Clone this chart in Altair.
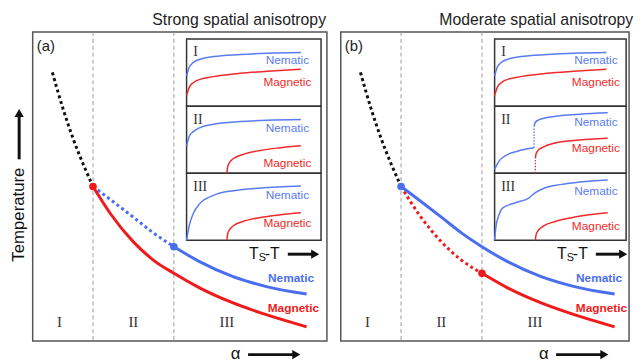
import altair as alt
import pandas as pd

# ---------------- main phase-diagram data (arbitrary units) ----------------
alpha_black = [6.7, 10.3, 13.7, 17.0, 20.5]
T_black = [86.9, 75.2, 65.6, 57.6, 50.0]
alpha_main = [20.5, 26.5, 34.3, 41.0, 48.0, 56.7, 67.9, 79.1, 93.1]
T_magnetic = [50.0, 41.1, 32.0, 26.2, 21.9, 17.2, 12.4, 8.6, 4.6]
T_nematic = [50.0, 45.7, 40.0, 35.0, 30.5, 25.7, 20.9, 17.7, 15.2]
alpha_boundaries = [20.5, 48.0]
region_names = ["I", "II", "III"]
region_alpha = [9.1, 34.2, 66.0]
panel_tags = ["(a)", "(b)"]
panel_titles = ["Strong spatial anisotropy", "Moderate spatial anisotropy"]

# ---------------- inset order-parameter curves (u = Ts-T, v = order parameter) ----------------
u_early = [0.0, 0.02, 0.05, 0.1, 0.2, 0.4, 0.6, 0.85]
nem_I = [0.45, 0.58, 0.65, 0.70, 0.74, 0.77, 0.79, 0.80]
mag_I = [0.16, 0.28, 0.35, 0.40, 0.44, 0.49, 0.52, 0.55]
nem_IIa = [0.40, 0.55, 0.62, 0.68, 0.73, 0.77, 0.79, 0.80]
u_nem_IIIa = [0.0, 0.02, 0.05, 0.1, 0.2, 0.35, 0.55, 0.85]
nem_IIIa = [0.0, 0.22, 0.40, 0.55, 0.67, 0.74, 0.78, 0.81]
u_mag_late = [0.30, 0.305, 0.32, 0.35, 0.42, 0.55, 0.7, 0.85]
mag_late = [0.0, 0.09, 0.16, 0.22, 0.28, 0.34, 0.38, 0.41]

u_nem_IIb_low = [0.0, 0.03, 0.08, 0.16, 0.24, 0.30]
nem_IIb_low = [0.06, 0.17, 0.26, 0.32, 0.36, 0.38]
u_nem_IIb_jump = [0.30, 0.30]
nem_IIb_jump = [0.38, 0.70]
u_nem_IIb_high = [0.30, 0.31, 0.34, 0.40, 0.51, 0.65, 0.86]
nem_IIb_high = [0.70, 0.76, 0.80, 0.83, 0.86, 0.88, 0.90]
u_mag_IIb_jump = [0.31, 0.31]
mag_IIb_jump = [0.0, 0.22]
u_mag_IIb = [0.31, 0.315, 0.33, 0.37, 0.46, 0.62, 0.86]
mag_IIb = [0.22, 0.29, 0.34, 0.39, 0.45, 0.49, 0.52]
u_nem_IIIb = [0.0, 0.01, 0.03, 0.06, 0.16, 0.26, 0.31, 0.38, 0.5, 0.65, 0.86]
nem_IIIb = [0.0, 0.2, 0.36, 0.48, 0.56, 0.63, 0.71, 0.78, 0.83, 0.87, 0.90]
u_mag_IIIb = [0.31, 0.315, 0.33, 0.37, 0.46, 0.62, 0.86]
mag_IIIb = [0.0, 0.08, 0.14, 0.21, 0.28, 0.35, 0.41]

inset_label_u = [0.75, 0.77]
inset_nem_v = [[0.68, 0.68, 0.68], [0.68, 0.76, 0.74]]
inset_mag_v = [[0.36, 0.15, 0.25], [0.36, 0.37, 0.21]]

# ---------------- layout constants ----------------
X_MAX = [100.0, 98.0]
PANEL_W = [298, 292]
PANEL_H = 313
INSET_X0 = 52.3
INSET_X1 = [98.0, 97.0]
SUB_BOTTOM = [76.0, 54.3, 32.6]
SUB_H = 21.7

SANS = "Liberation Sans"
SERIF = "Liberation Serif"

color_scale = alt.Scale(domain=["blk", "nem", "mag", "nem_l", "mag_l"],
                        range=["#111111", "#4a6ef0", "#f01a1a", "#5a7cf2", "#f02a2a"])


def to_panel(p, sub, u, v):
    a0, a1 = INSET_X0, INSET_X1[p]
    b = SUB_BOTTOM[sub]
    return [a0 + ui * (a1 - a0) for ui in u], [b + vi * SUB_H for vi in v]


def seg_rows(seg, series, style, xs, ys):
    return [dict(seg=seg, series=series, style=style, i=k, x=x, y=y)
            for k, (x, y) in enumerate(zip(xs, ys))]


def panel_chart(p):
    xs = alt.Scale(domain=[0, X_MAX[p]], nice=False, zero=False)
    ys = alt.Scale(domain=[0, 100], nice=False, zero=False)

    def X(f="x"):
        return alt.X(f, type="quantitative", scale=xs, axis=None)

    def Y(f="y"):
        return alt.Y(f, type="quantitative", scale=ys, axis=None)

    C = alt.Color("series:N", scale=color_scale, legend=None)

    # main curves
    rows = seg_rows("blk", "blk", "dot", alpha_black, T_black)
    if p == 0:
        rows += seg_rows("mag", "mag", "solid", alpha_main, T_magnetic)
        rows += seg_rows("nd", "nem", "dot", alpha_main[:5], T_nematic[:5])
        rows += seg_rows("ns", "nem", "solid", alpha_main[4:], T_nematic[4:])
        pts = [dict(series="mag", x=alpha_main[0], y=T_magnetic[0]),
               dict(series="nem", x=alpha_main[4], y=T_nematic[4])]
    else:
        rows += seg_rows("nem", "nem", "solid", alpha_main, T_nematic)
        rows += seg_rows("md", "mag", "dot", alpha_main[:5], T_magnetic[:5])
        rows += seg_rows("ms", "mag", "solid", alpha_main[4:], T_magnetic[4:])
        pts = [dict(series="nem", x=alpha_main[0], y=T_nematic[0]),
               dict(series="mag", x=alpha_main[4], y=T_magnetic[4])]
    main = pd.DataFrame(rows)

    bounds = alt.Chart(pd.DataFrame({"x": alpha_boundaries})).mark_rule(
        color="#9a9a9a", strokeWidth=1, strokeDash=[4, 3]).encode(x=X())

    solid = alt.Chart(main[main["style"] == "solid"]).mark_line(
        strokeWidth=3, interpolate="monotone").encode(
        x=X(), y=Y(), color=C, detail="seg:N", order="i:Q")
    dotted = alt.Chart(main[main["style"] == "dot"]).mark_line(
        strokeWidth=3, strokeDash=[3, 3], interpolate="monotone").encode(
        x=X(), y=Y(), color=C, detail="seg:N", order="i:Q")
    dots = alt.Chart(pd.DataFrame(pts)).mark_circle(size=60, opacity=1).encode(
        x=X(), y=Y(), color=C)

    # inset boxes
    boxes = pd.DataFrame({
        "x": [INSET_X0] * 3, "x2": [INSET_X1[p]] * 3,
        "y": SUB_BOTTOM, "y2": [b + SUB_H for b in SUB_BOTTOM]})
    box = alt.Chart(boxes).mark_rect(fill="white", stroke="#333", strokeWidth=1.5).encode(
        x=X(), x2="x2", y=Y(), y2="y2")

    # inset curves
    irows = []
    if p == 0:
        curves = [(0, "nem_l", "solid", u_early, nem_I), (0, "mag_l", "solid", u_early, mag_I),
                  (1, "nem_l", "solid", u_early, nem_IIa), (1, "mag_l", "solid", u_mag_late, mag_late),
                  (2, "nem_l", "solid", u_nem_IIIa, nem_IIIa), (2, "mag_l", "solid", u_mag_late, mag_late)]
    else:
        curves = [(0, "nem_l", "solid", u_early, nem_I), (0, "mag_l", "solid", u_early, mag_I),
                  (1, "nem_l", "solid", u_nem_IIb_low, nem_IIb_low),
                  (1, "nem_l", "dot", u_nem_IIb_jump, nem_IIb_jump),
                  (1, "nem_l", "solid", u_nem_IIb_high, nem_IIb_high),
                  (1, "mag_l", "dot", u_mag_IIb_jump, mag_IIb_jump),
                  (1, "mag_l", "solid", u_mag_IIb, mag_IIb),
                  (2, "nem_l", "solid", u_nem_IIIb, nem_IIIb), (2, "mag_l", "solid", u_mag_IIIb, mag_IIIb)]
    for k, (sub, ser, sty, u, v) in enumerate(curves):
        px, py = to_panel(p, sub, u, v)
        irows += seg_rows(f"c{k}", ser, sty, px, py)
    ins = pd.DataFrame(irows)
    ins_solid = alt.Chart(ins[ins["style"] == "solid"]).mark_line(
        strokeWidth=1.5, interpolate="monotone").encode(
        x=X(), y=Y(), color=C, detail="seg:N", order="i:Q")
    layers = [bounds, dotted, solid, dots, box, ins_solid]
    if (ins["style"] == "dot").any():
        ins_dot = alt.Chart(ins[ins["style"] == "dot"]).mark_line(
            strokeWidth=1.3, strokeDash=[1.5, 1.5]).encode(
            x=X(), y=Y(), color=C, detail="seg:N", order="i:Q")
        layers.append(ins_dot)

    # inset texts
    lab_rows, num_rows = [], []
    for s in range(3):
        lx, ly = to_panel(p, s, [inset_label_u[p]] * 2, [inset_nem_v[p][s], inset_mag_v[p][s]])
        lab_rows.append(dict(x=lx[0], y=ly[0], t="Nematic", series="nem_l"))
        lab_rows.append(dict(x=lx[1], y=ly[1], t="Magnetic", series="mag_l"))
        nx, ny = to_panel(p, s, [0.05], [0.8])
        num_rows.append(dict(x=nx[0], y=ny[0], t=region_names[s]))
    ilab = alt.Chart(pd.DataFrame(lab_rows)).mark_text(
        font=SANS, fontSize=12, align="center", baseline="middle").encode(
        x=X(), y=Y(), text="t:N", color=C)
    inum = alt.Chart(pd.DataFrame(num_rows)).mark_text(
        font=SERIF, fontSize=14, align="left", baseline="middle", color="#333").encode(
        x=X(), y=Y(), text="t:N")
    layers += [ilab, inum]

    # main texts
    mlab = alt.Chart(pd.DataFrame([
        dict(x=87.8, y=20.5, t="Nematic", series="nem"),
        dict(x=88.6, y=10.8, t="Magnetic", series="mag")])).mark_text(
        font=SANS, fontSize=12, fontWeight="bold", align="center", baseline="middle").encode(
        x=X(), y=Y(), text="t:N", color=C)
    rlab = alt.Chart(pd.DataFrame({"x": region_alpha, "y": [6.1] * 3, "t": region_names})).mark_text(
        font=SERIF, fontSize=15, align="center", baseline="middle", color="#333").encode(
        x=X(), y=Y(), text="t:N")
    tag = alt.Chart(pd.DataFrame({"x": [1.4], "y": [95.5], "t": [panel_tags[p]]})).mark_text(
        font=SANS, fontSize=15, align="left", baseline="middle", color="#222").encode(
        x=X(), y=Y(), text="t:N")
    title = alt.Chart(pd.DataFrame({"x": [99.7 if p == 0 else 99.4], "y": [103.8],
                                    "t": [panel_titles[p]]})).mark_text(
        font=SANS, fontSize=16, align="right", baseline="middle", color="#222").encode(
        x=X(), y=Y(), text="t:N")
    # Ts-T label
    tsT = alt.Chart(pd.DataFrame({"x": [73.5, 78.9], "y": [28.1, 28.1], "t": ["T", "-T"]})).mark_text(
        font=SANS, fontSize=16, align="left", baseline="middle", color="#111").encode(
        x=X(), y=Y(), text="t:N")
    tsS = alt.Chart(pd.DataFrame({"x": [76.8], "y": [26.9], "t": ["S"]})).mark_text(
        font=SANS, fontSize=11, align="left", baseline="middle", color="#111").encode(
        x=X(), y=Y(), text="t:N")
    alab = alt.Chart(pd.DataFrame({"x": [69.0], "y": [-4.2], "t": ["α"]})).mark_text(
        font=SANS, fontSize=17, align="center", baseline="middle", color="#111").encode(
        x=X(), y=Y(), text="t:N")
    # arrows
    harrows = pd.DataFrame({"x": [86.7, 73.2], "x2": [95.5, 88.8], "y": [28.1, -4.4]})
    hline = alt.Chart(harrows).mark_rule(strokeWidth=3, color="#111").encode(
        x=X(), x2="x2", y=Y())
    hhead = alt.Chart(pd.DataFrame({"x": [96.0, 89.6], "y": [28.1, -4.4]})).mark_point(
        shape="triangle-right", size=90, filled=True, opacity=1, color="#111").encode(
        x=X(), y=Y())
    layers += [mlab, rlab, tag, title, tsT, tsS, alab, hline, hhead]

    if p == 0:
        tlab = alt.Chart(pd.DataFrame({"x": [-4.7], "y": [40.9], "t": ["Temperature"]})).mark_text(
            font=SANS, fontSize=17, angle=270, align="center", baseline="middle", color="#111").encode(
            x=X(), y=Y(), text="t:N")
        vline = alt.Chart(pd.DataFrame({"x": [-4.6], "y": [58.8], "y2": [72.5]})).mark_rule(
            strokeWidth=3, color="#111").encode(x=X(), y=Y(), y2="y2")
        vhead = alt.Chart(pd.DataFrame({"x": [-4.6], "y": [73.8]})).mark_point(
            shape="triangle-up", size=90, filled=True, opacity=1, color="#111").encode(
            x=X(), y=Y())
        layers += [tlab, vline, vhead]

    return alt.layer(*layers).properties(width=PANEL_W[p], height=PANEL_H)


chart = alt.hconcat(panel_chart(0), panel_chart(1), spacing=14, bounds="flush").resolve_scale(
    x="independent", y="independent"
).properties(
    padding={"left": 1, "top": 1, "right": 0, "bottom": 0},
).configure_view(stroke="#555", strokeWidth=1.5)

chart.save("out.html", embed_options={"renderer": "svg", "actions": False})
